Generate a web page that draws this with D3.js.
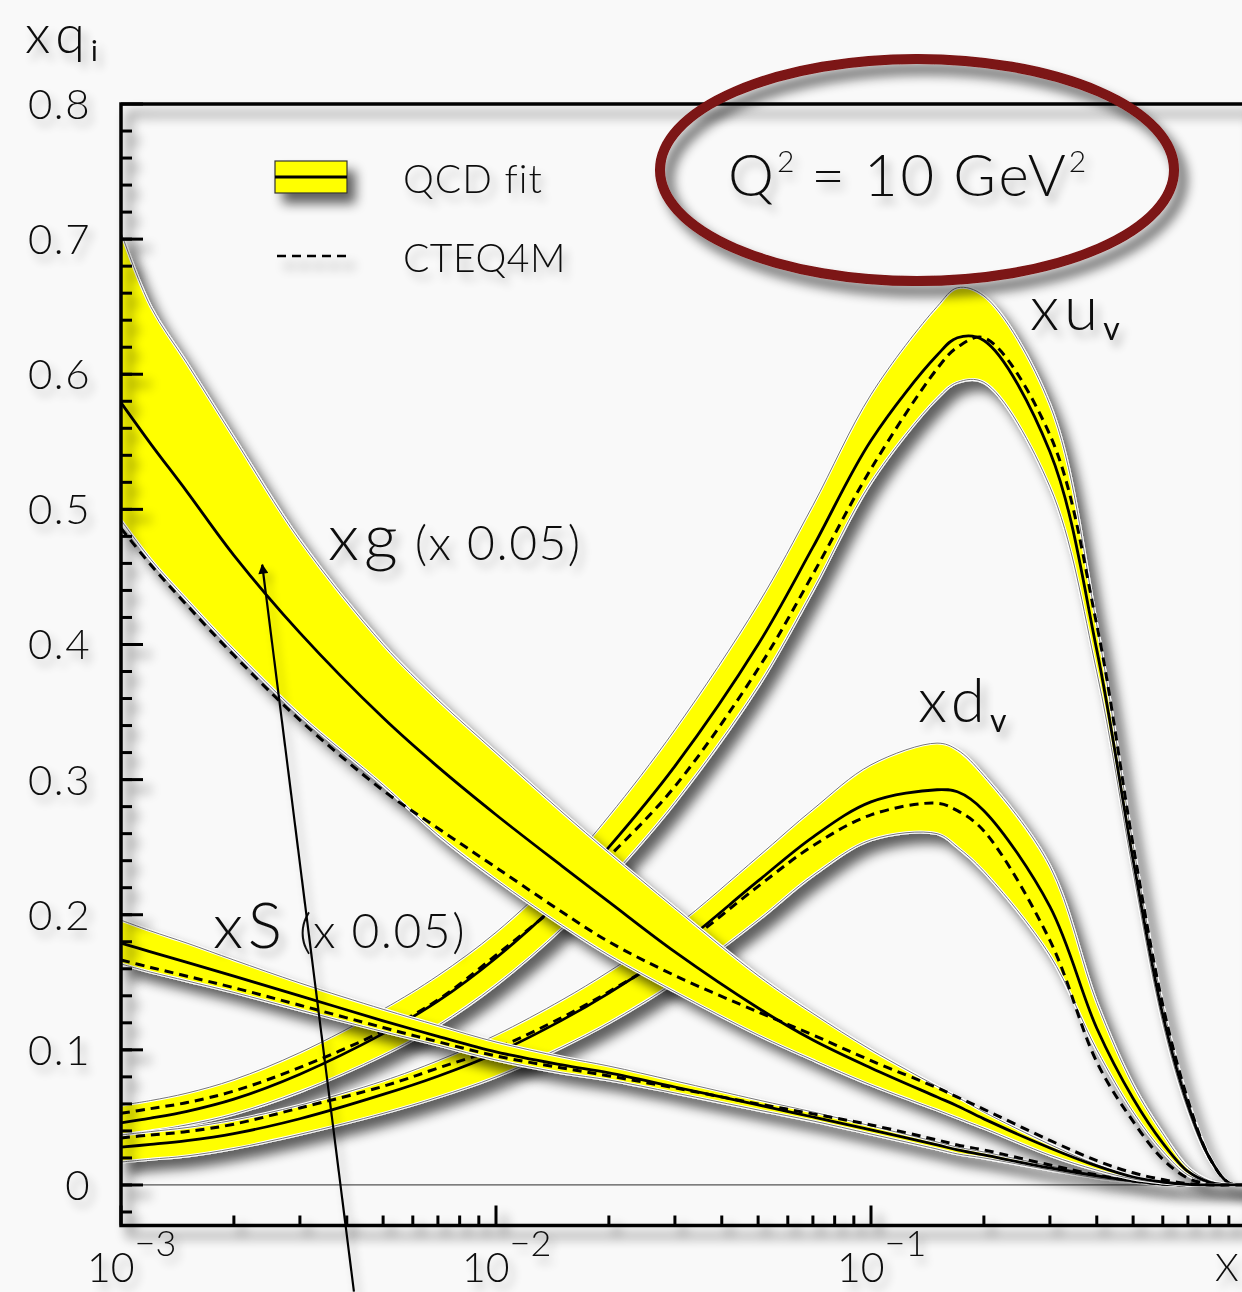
<!DOCTYPE html>
<html>
<head>
<meta charset="utf-8">
<script src="https://cdn.jsdelivr.net/npm/d3@7"></script>
<style>
  html, body { margin: 0; padding: 0; background: #f9f9f9; }
  svg { display: block; }
  text { font-family: Lato, "Open Sans", "DejaVu Sans", sans-serif; font-weight: 300; fill: #111; }
</style>
</head>
<body>
<svg id="chart" width="1242" height="1292"></svg>
<script>
// Momentum fractions (shared sampling grid for every distribution)
const xGrid = [0.001, 0.0012, 0.0015, 0.002, 0.003, 0.005, 0.007, 0.01, 0.015, 0.02, 0.03,
               0.05, 0.07, 0.1, 0.15, 0.17, 0.2, 0.3, 0.4, 0.5, 0.6, 0.7, 0.8, 0.9, 1.0];

// Gluon xg (scaled by 0.05): fit band, central fit, CTEQ4M
const xgUpper = [0.705, 0.650, 0.608, 0.553, 0.477, 0.400, 0.359, 0.320, 0.276, 0.246, 0.205,
                 0.155, 0.127, 0.100, 0.073, 0.065, 0.054, 0.030, 0.015, 0.006, 0.002, 0, 0, 0, 0];
const xgFit   = [0.579, 0.5485, 0.513, 0.466, 0.4086, 0.3457, 0.3094, 0.274, 0.236, 0.2095, 0.1725,
                 0.131, 0.1073, 0.0866, 0.0651, 0.0585, 0.0489, 0.0274, 0.0141, 0.0059, 0.0022, 0.0004, 0, 0, 0];
const xgLower = [0.492, 0.463, 0.433, 0.396, 0.348, 0.296, 0.259, 0.226, 0.192, 0.170, 0.143,
                 0.111, 0.0925, 0.074, 0.0555, 0.0496, 0.042, 0.022, 0.011, 0.0044, 0.0015, 0, 0, 0, 0];
const xgCteq  = [0.486, 0.459, 0.429, 0.392, 0.344, 0.292, 0.264, 0.235, 0.202, 0.180, 0.155,
                 0.128, 0.111, 0.092, 0.072, 0.065, 0.056, 0.033, 0.018, 0.009, 0.004, 0.001, 0, 0, 0];

// Sea xS (scaled by 0.05)
const xsUpper = [0.196, 0.188, 0.179, 0.1665, 0.1495, 0.130, 0.118, 0.1058, 0.0947, 0.088, 0.077,
                 0.0629, 0.054, 0.0437, 0.0318, 0.028, 0.0244, 0.0141, 0.0074, 0.003, 0.0007, 0, 0, 0, 0];
const xsFit   = [0.179, 0.1725, 0.1648, 0.1545, 0.140, 0.1215, 0.110, 0.0985, 0.0888, 0.0829, 0.0725,
                 0.0592, 0.0503, 0.0407, 0.0296, 0.026, 0.0222, 0.0126, 0.0067, 0.003, 0.0007, 0, 0, 0, 0];
const xsLower = [0.1636, 0.1575, 0.151, 0.1425, 0.1295, 0.1135, 0.1035, 0.0925, 0.0829, 0.0777, 0.0681,
                 0.0555, 0.0474, 0.0377, 0.0266, 0.023, 0.020, 0.0111, 0.0052, 0.0022, 0, 0, 0, 0, 0];
const xsCteq  = [0.1665, 0.161, 0.1545, 0.146, 0.133, 0.1165, 0.106, 0.0955, 0.0866, 0.0807, 0.0718,
                 0.060, 0.0526, 0.0444, 0.0333, 0.0296, 0.0259, 0.0148, 0.0074, 0.003, 0.0007, 0, 0, 0, 0];

// Valence up xu_v
const xuUpper = [0.059, 0.0625, 0.068, 0.078, 0.098, 0.130, 0.155, 0.187, 0.233, 0.273, 0.337,
                 0.430, 0.503, 0.585, 0.650, 0.664, 0.658, 0.5774, 0.4145, 0.2517, 0.1332, 0.0629, 0.0207, 0.0015, 0];
const xuFit   = [0.046, 0.0495, 0.0545, 0.0635, 0.082, 0.112, 0.136, 0.168, 0.212, 0.250, 0.310,
                 0.400, 0.472, 0.551, 0.614, 0.627, 0.625, 0.5426, 0.396, 0.2406, 0.1258, 0.0592, 0.020, 0.0015, 0];
const xuLower = [0.037, 0.040, 0.0445, 0.0525, 0.069, 0.096, 0.118, 0.148, 0.190, 0.226, 0.283,
                 0.369, 0.440, 0.520, 0.582, 0.594, 0.594, 0.5167, 0.3797, 0.2317, 0.1199, 0.0555, 0.0185, 0.0015, 0];
const xuCteq  = [0.053, 0.0565, 0.061, 0.0695, 0.087, 0.114, 0.137, 0.170, 0.210, 0.243, 0.295,
                 0.382, 0.452, 0.530, 0.604, 0.620, 0.627, 0.5551, 0.4145, 0.2517, 0.1332, 0.0629, 0.020, 0.0015, 0];

// Valence down xd_v
const xdUpper = [0.037, 0.0395, 0.0425, 0.048, 0.059, 0.077, 0.092, 0.111, 0.137, 0.158, 0.191,
                 0.243, 0.278, 0.311, 0.327, 0.322, 0.303, 0.236, 0.135, 0.074, 0.038, 0.013, 0.003, 0.0005, 0];
const xdFit   = [0.028, 0.030, 0.0328, 0.038, 0.049, 0.067, 0.0805, 0.0975, 0.122, 0.142, 0.1745,
                 0.225, 0.2575, 0.2835, 0.2925, 0.291, 0.277, 0.206, 0.116, 0.064, 0.031, 0.010, 0.002, 0, 0];
const xdLower = [0.017, 0.019, 0.0215, 0.027, 0.0375, 0.053, 0.065, 0.080, 0.102, 0.120, 0.150,
                 0.196, 0.229, 0.2554, 0.260, 0.250, 0.232, 0.170, 0.100, 0.054, 0.025, 0.0074, 0.0015, 0, 0];
const xdCteq  = [0.0348, 0.037, 0.0395, 0.045, 0.057, 0.073, 0.0865, 0.101, 0.124, 0.143, 0.173,
                 0.221, 0.251, 0.2739, 0.2825, 0.277, 0.262, 0.181, 0.091, 0.047, 0.019, 0.005, 0.0007, 0, 0];

// Axis ticks and labels
const yMajorTicks = [0, 0.1, 0.2, 0.3, 0.4, 0.5, 0.6, 0.7, 0.8];
const yTickLabels = ["0", "0.1", "0.2", "0.3", "0.4", "0.5", "0.6", "0.7", "0.8"];
const xDecades = [0.001, 0.01, 0.1];
const xDecadeExponents = ["\u22123", "\u22122", "\u22121"];

const svg = d3.select("#chart");
const W = 1242, H = 1292;
svg.append("rect").attr("width", W).attr("height", H).attr("fill", "#f9f9f9");

// Soft drop shadows
const defs = svg.append("defs");
function shadow(id, blur, dx, dy, alpha) {
  const f = defs.append("filter").attr("id", id)
    .attr("x", "-20%").attr("y", "-20%").attr("width", "150%").attr("height", "150%");
  f.append("feGaussianBlur").attr("in", "SourceAlpha").attr("stdDeviation", blur).attr("result", "b");
  f.append("feOffset").attr("in", "b").attr("dx", dx).attr("dy", dy).attr("result", "o");
  const ct = f.append("feComponentTransfer").attr("in", "o").attr("result", "s");
  ct.append("feFuncA").attr("type", "linear").attr("slope", alpha);
  const m = f.append("feMerge");
  m.append("feMergeNode").attr("in", "s");
  m.append("feMergeNode").attr("in", "SourceGraphic");
}
shadow("shadow", 6, 8, 10, 0.62);
shadow("tshadow", 5, 5, 7, 0.3);

const x = d3.scaleLog().domain([0.001, 1]).range([121, 1246]);
const y = d3.scaleLinear().domain([-0.03, 0.8]).range([1225.5, 104]);

defs.append("clipPath").attr("id", "plotClip")
  .append("rect").attr("x", x(0.001)).attr("y", y(0.8))
  .attr("width", x(1) - x(0.001)).attr("height", y(-0.03) - y(0.8));

// Zero line
svg.append("line")
  .attr("x1", x(0.001)).attr("x2", x(1)).attr("y1", y(0)).attr("y2", y(0))
  .attr("stroke", "#555").attr("stroke-width", 1.2);

const plot = svg.append("g").attr("clip-path", "url(#plotClip)");

const curve = d3.curveCatmullRom.alpha(0.5);
const lineGen = d3.line().x(d => x(d[0])).y(d => y(Math.max(0, d[1]))).curve(curve);
const areaGen = d3.area().x(d => x(d[0])).y0(d => y(d[1])).y1(d => y(d[2])).curve(curve);

function drawPdf(upper, fit, lower, cteq) {
  const g = plot.append("g").attr("filter", "url(#shadow)");
  const band = xGrid.map((xv, i) => [xv, lower[i], upper[i]]);
  g.append("path").attr("d", areaGen(band)).attr("fill", "#ffff00");
  [upper, lower].forEach(edge => {
    const pts = xGrid.map((xv, i) => [xv, edge[i]]);
    g.append("path").attr("d", lineGen(pts)).attr("fill", "none")
      .attr("stroke", "#ffffff").attr("stroke-width", 3);
    g.append("path").attr("d", lineGen(pts)).attr("fill", "none")
      .attr("stroke", "#666").attr("stroke-width", 0.9);
  });
  g.append("path").attr("d", lineGen(xGrid.map((xv, i) => [xv, cteq[i]])))
    .attr("fill", "none").attr("stroke", "#000").attr("stroke-width", 3)
    .attr("stroke-dasharray", "9,6");
  g.append("path").attr("d", lineGen(xGrid.map((xv, i) => [xv, fit[i]])))
    .attr("fill", "none").attr("stroke", "#000").attr("stroke-width", 2.8);
}

drawPdf(xuUpper, xuFit, xuLower, xuCteq);
drawPdf(xdUpper, xdFit, xdLower, xdCteq);
drawPdf(xsUpper, xsFit, xsLower, xsCteq);
drawPdf(xgUpper, xgFit, xgLower, xgCteq);

// Frame and ticks
const axes = svg.append("g").attr("filter", "url(#shadow)");
axes.append("rect")
  .attr("x", x(0.001)).attr("y", y(0.8))
  .attr("width", x(1) - x(0.001)).attr("height", y(-0.03) - y(0.8))
  .attr("fill", "none").attr("stroke", "#000").attr("stroke-width", 3.5);

const yMinor = d3.range(-0.02, 0.8, 0.02).map(v => +v.toFixed(2));
yMinor.forEach(v => {
  axes.append("line").attr("x1", x(0.001)).attr("x2", x(0.001) + 11)
    .attr("y1", y(v)).attr("y2", y(v)).attr("stroke", "#000").attr("stroke-width", 3);
});
yMajorTicks.forEach(v => {
  axes.append("line").attr("x1", x(0.001)).attr("x2", x(0.001) + 22)
    .attr("y1", y(v)).attr("y2", y(v)).attr("stroke", "#000").attr("stroke-width", 3);
});
xDecades.forEach(d => {
  for (let k = 1; k <= 9; k++) {
    const v = d * k;
    axes.append("line").attr("x1", x(v)).attr("x2", x(v))
      .attr("y1", y(-0.03)).attr("y2", y(-0.03) - (k === 1 ? 20 : 10))
      .attr("stroke", "#000").attr("stroke-width", 3);
  }
});

// Tick labels
const labels = svg.append("g").attr("filter", "url(#tshadow)");
yMajorTicks.forEach((v, i) => {
  labels.append("text").attr("x", 91).attr("y", y(v) + 15)
    .attr("text-anchor", "end").attr("font-size", 42).attr("letter-spacing", 1.5)
    .text(yTickLabels[i]);
});
xDecades.forEach((d, i) => {
  const t = labels.append("text").attr("x", x(d) - 34).attr("y", 1282).attr("font-size", 41);
  t.append("tspan").text("10");
  t.append("tspan").attr("dy", -26).attr("font-size", 36).text(xDecadeExponents[i]);
});
labels.append("text").attr("x", 1215).attr("y", 1281).attr("font-size", 38).text("X");

// Axis title xq_i
const yt = labels.append("text").attr("x", 25).attr("y", 53).attr("font-size", 54)
  .attr("letter-spacing", 6);
yt.append("tspan").text("xq");
yt.append("tspan").attr("dy", 8).attr("font-size", 28).attr("font-weight", 400).text("i");

// Legend
const leg = svg.append("g").attr("filter", "url(#shadow)");
leg.append("rect").attr("x", 275).attr("y", 161).attr("width", 72).attr("height", 32)
  .attr("fill", "#ffff00").attr("stroke", "#333").attr("stroke-width", 1.2);
leg.append("line").attr("x1", 275).attr("x2", 347).attr("y1", 177).attr("y2", 177)
  .attr("stroke", "#000").attr("stroke-width", 3);
leg.append("line").attr("x1", 277).attr("x2", 347).attr("y1", 256).attr("y2", 256)
  .attr("stroke", "#000").attr("stroke-width", 2.6).attr("stroke-dasharray", "9,6");
labels.append("text").attr("x", 403).attr("y", 193).attr("font-size", 39).attr("letter-spacing", 1).text("QCD fit");
labels.append("text").attr("x", 403).attr("y", 272).attr("font-size", 39).attr("letter-spacing", 0.5).text("CTEQ4M");

// Curve labels
function curveLabel(px, py, size, main, sub, tail) {
  const t = labels.append("text").attr("x", px).attr("y", py).attr("font-size", size).attr("letter-spacing", 5);
  t.append("tspan").text(main);
  if (sub) t.append("tspan").attr("dy", 10).attr("font-size", 32).attr("font-weight", 400).text(sub);
  if (tail) t.append("tspan").attr("dx", 12).attr("font-size", 48).attr("letter-spacing", 1.5).text(tail);
}
curveLabel(328, 560, 66, "xg", null, "(x 0.05)");
curveLabel(213, 948, 64, "xS", null, "(x 0.05)");
curveLabel(1030, 330, 62, "xu", "v", null);
curveLabel(918, 722, 62, "xd", "v", null);

// Scale annotation with ellipse
const ann = svg.append("g").attr("filter", "url(#shadow)");
ann.append("ellipse").attr("cx", 917).attr("cy", 170).attr("rx", 257).attr("ry", 111)
  .attr("fill", "none").attr("stroke", "#7b1212").attr("stroke-width", 10);
const q = labels.append("text").attr("x", 728).attr("y", 196).attr("font-size", 58).attr("letter-spacing", 3);
q.append("tspan").text("Q");
q.append("tspan").attr("dy", -24).attr("font-size", 30).text("2");
q.append("tspan").attr("dy", 24).attr("dx", 14).text("=");
q.append("tspan").attr("dx", 16).text("10");
q.append("tspan").attr("dx", 16).text("GeV");
q.append("tspan").attr("dy", -24).attr("font-size", 30).text("2");

// Arrow pointing to the gluon band
const arrowFrom = [0.00418, -0.079];
const arrowTo = [0.00238, 0.459];
defs.append("marker").attr("id", "arrowHead").attr("viewBox", "0 0 10 10")
  .attr("refX", 9).attr("refY", 5).attr("markerWidth", 14).attr("markerHeight", 10)
  .attr("markerUnits", "userSpaceOnUse").attr("orient", "auto")
  .append("path").attr("d", "M0,0 L10,5 L0,10 Z").attr("fill", "#000");
svg.append("g").attr("filter", "url(#tshadow)").append("line")
  .attr("x1", x(arrowFrom[0])).attr("y1", y(arrowFrom[1]))
  .attr("x2", x(arrowTo[0])).attr("y2", y(arrowTo[1]))
  .attr("stroke", "#000").attr("stroke-width", 2.2)
  .attr("marker-end", "url(#arrowHead)");
</script>
</body>
</html>
